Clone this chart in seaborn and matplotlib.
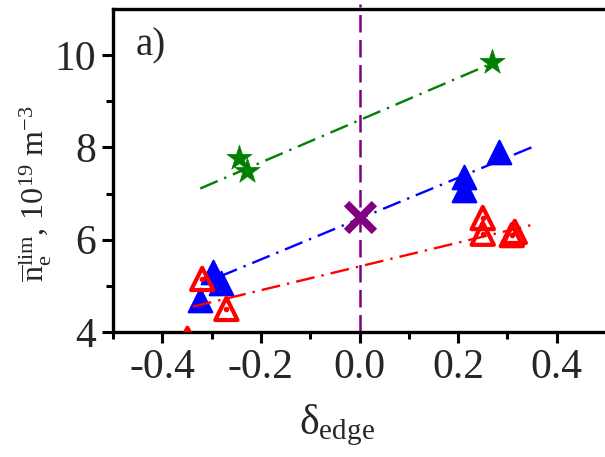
import matplotlib
matplotlib.use("Agg")
import matplotlib.pyplot as plt
import seaborn as sns
import numpy as np

# data
green_x = [-0.244, -0.229, 0.268]
green_y = [7.77, 7.49, 9.85]
blue_x = [-0.298, -0.280, -0.323, 0.211, 0.211, 0.282]
blue_y = [5.30, 5.06, 4.69, 7.36, 7.08, 7.90]
red_x = [-0.319, -0.270, 0.250, 0.250, 0.309, 0.315, -0.349]
red_y = [5.15, 4.50, 6.47, 6.13, 6.10, 6.17, 3.85]
center_x = [0.0]
center_y = [6.5]

# fitted lines (end points)
green_fit_x = [-0.323, 0.29]
green_fit_y = [7.11, 9.92]
blue_fit_x = [-0.284, 0.351]
blue_fit_y = [5.20, 8.01]
red_fit_x = [-0.338, 0.349]
red_fit_y = [4.55, 6.32]

sns.set_theme(style="ticks")
plt.rcParams['font.family'] = ['Liberation Serif', 'DejaVu Serif']
plt.rcParams['mathtext.fontset'] = 'custom'
plt.rcParams['mathtext.rm'] = 'Liberation Serif'
plt.rcParams['mathtext.it'] = 'Liberation Serif:italic'

fig = plt.figure(figsize=(6.05, 4.57), dpi=100)
ax = fig.add_axes([113 / 605, 1 - 332 / 457, 493 / 605, 323 / 457])

ax.plot([0, 0], [4, 11.1], color='purple', lw=1.8, ls=(0, (7, 3)),
        clip_on=False, zorder=1)

sns.scatterplot(x=blue_x, y=blue_y, ax=ax, marker='^', s=17 ** 2,
                color='blue', edgecolor='blue', linewidth=1.5, zorder=3)

dashdot = (0, (8, 3, 1, 3))
sns.lineplot(x=green_fit_x, y=green_fit_y, ax=ax, color='green', lw=1.7,
             linestyle=dashdot, zorder=4)
sns.lineplot(x=blue_fit_x, y=blue_fit_y, ax=ax, color='blue', lw=1.7,
             linestyle=dashdot, zorder=4)
sns.lineplot(x=red_fit_x, y=red_fit_y, ax=ax, color='red', lw=1.7,
             linestyle=dashdot, zorder=4)

sns.scatterplot(x=green_x, y=green_y, ax=ax, marker='*', s=19 ** 2,
                color='green', edgecolor='green', linewidth=0.5, zorder=5)
sns.scatterplot(x=red_x, y=red_y, ax=ax, marker='^', s=16 ** 2,
                facecolor='none', edgecolor='red', linewidth=3.0, zorder=5)
sns.scatterplot(x=red_x, y=red_y, ax=ax, marker='o', s=4 ** 2,
                color='red', edgecolor='red', linewidth=0, zorder=5)
sns.scatterplot(x=center_x, y=center_y, ax=ax, marker='x', s=20 ** 2,
                color='purple', linewidth=5.5, zorder=6)

ax.set_xlim(-0.5, 0.5)
ax.set_ylim(4, 11)
ax.set_xticks([-0.4, -0.2, 0.0, 0.2, 0.4])
ax.set_xticklabels(['-0.4', '-0.2', '0.0', '0.2', '0.4'])
ax.set_xticks([-0.5, -0.3, -0.1, 0.1, 0.3], minor=True)
ax.set_yticks([4, 6, 8, 10])
ax.set_yticks([5, 7, 9], minor=True)

for side in ['left', 'bottom', 'top']:
    ax.spines[side].set_linewidth(2.4)
    ax.spines[side].set_color('black')
ax.spines['right'].set_visible(False)
ax.spines['top'].set_visible(True)

ax.tick_params(which='major', direction='out', length=8, width=2.2,
               labelsize=30, color='black', pad=4)
ax.tick_params(which='minor', direction='out', length=5, width=2.2,
               color='black')
ax.tick_params(top=False, right=False, which='both')

ax.set_xlabel('δ$_{\\mathrm{edge}}$', fontsize=30)
ax.xaxis.set_label_coords((337 - 113) / 493, -0.22)
ax.set_ylabel(r'$\overline{\mathrm{n}}_{\mathrm{e}}^{\mathrm{lim}}$, 10$^{19}$ m$^{-3}$',
              fontsize=23)
ax.yaxis.set_label_coords(-0.12, (332 - 194) / 323)

ax.text(-0.455, 10.2, 'a)', fontsize=28, ha='left', va='center')

fig.savefig('out.png', dpi=100)
